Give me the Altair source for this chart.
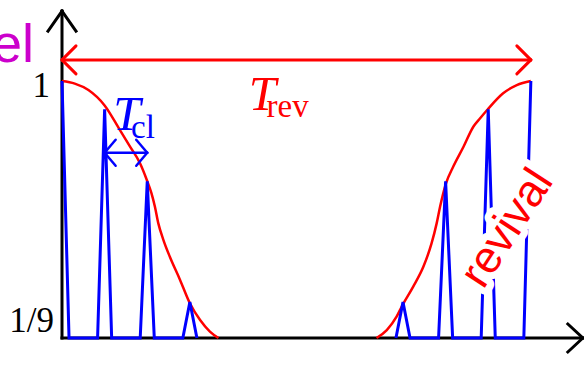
import altair as alt
import pandas as pd

# Time axis in units of the classical period T_cl, vertical axis is probability
T_MAX = 12.2
P_MAX = 1.2685
W, H = 520, 326
PX_X = W / T_MAX   # pixels per time unit
PX_Y = H / P_MAX   # pixels per probability unit

# Spike peaks: collapse group and revival group
peak_t_collapse = [0, 1, 2, 3]
peak_p_collapse = [1.0, 0.89, 0.61, 0.14]
peak_t_revival = [8, 9, 10, 11]
peak_p_revival = [0.14, 0.61, 0.89, 1.0]
half_width = 0.165

# Envelope of the spikes (collapse and revival)
env_t_collapse = [0.0, 0.3, 0.62, 1.0, 1.36, 1.6, 1.83, 1.99, 2.1, 2.18, 2.26, 2.38,
                  2.53, 2.77, 3.0, 3.24, 3.47, 3.67]
env_p_collapse = [1.0, 0.99, 0.965, 0.905, 0.809, 0.744, 0.68, 0.615, 0.563, 0.511, 0.446, 0.381,
                  0.316, 0.226, 0.135, 0.07, 0.025, 0.0]
env_t_revival = [7.38, 7.62, 7.85, 7.98, 8.24, 8.48, 8.67, 8.79, 8.87, 9.01, 9.18, 9.42,
                 9.65, 9.81, 9.99, 10.35, 10.67, 11.0]
env_p_revival = [0.0, 0.031, 0.083, 0.125, 0.2, 0.278, 0.368, 0.446, 0.511, 0.602, 0.667, 0.744,
                 0.822, 0.855, 0.89, 0.952, 0.984, 1.0]

T_CL = 1
T_REV = 11

xs = alt.Scale(domain=[0, T_MAX], nice=False, zero=False)
ys = alt.Scale(domain=[0, P_MAX], nice=False, zero=False)


def X(f="x"):
    return alt.X(f"{f}:Q", scale=xs, axis=None)


def Y(f="y"):
    return alt.Y(f"{f}:Q", scale=ys, axis=None)


# ---- spike polylines
rows = []
for g, (ts, ps) in enumerate([(peak_t_collapse, peak_p_collapse), (peak_t_revival, peak_p_revival)]):
    k = 0
    for i, (t, p) in enumerate(zip(ts, ps)):
        if not (g == 0 and i == 0):
            rows.append(dict(x=t - half_width, y=0.0, g=g, o=k)); k += 1
        rows.append(dict(x=t, y=p, g=g, o=k)); k += 1
        if not (g == 1 and i == len(ts) - 1):
            rows.append(dict(x=t + half_width, y=0.0, g=g, o=k)); k += 1
spikes = pd.DataFrame(rows)

env = pd.DataFrame(
    [dict(x=t, y=p, g=0) for t, p in zip(env_t_collapse, env_p_collapse)]
    + [dict(x=t, y=p, g=1) for t, p in zip(env_t_revival, env_p_revival)]
)


# ---- arrows as line segments
def arrow(t0, v0, t1, v1, along, across):
    """Shaft from (t0,v0) to tip (t1,v1) plus open head; head sizes in pixels."""
    segs = [dict(x=t0, y=v0, x2=t1, y2=v1)]
    dxp = (t1 - t0) * PX_X
    dyp = (v1 - v0) * PX_Y
    n = (dxp ** 2 + dyp ** 2) ** 0.5
    ux, uy = dxp / n, dyp / n
    for s in (1, -1):
        ax = -ux * along + s * (-uy) * across
        ay = -uy * along + s * ux * across
        segs.append(dict(x=t1, y=v1, x2=t1 + ax / PX_X, y2=v1 + ay / PX_Y))
    return segs


def double_arrow(t0, t1, v, along, across):
    a = arrow(t0, v, t1, v, along, across)
    b = arrow(t1, v, t0, v, along, across)
    return a + b[1:]


axes_df = pd.DataFrame(
    arrow(0, 0, 0, 1.272, 20, 14) + arrow(0, 0, 12.22, 0, 15, 14)
)
trev_df = pd.DataFrame(double_arrow(0, T_REV, 1.082, 14, 14))
tcl_df = pd.DataFrame(double_arrow(T_CL, 2 * T_CL, 0.721, 11, 13))


def segs(df, color, width, cap="butt"):
    return alt.Chart(df).mark_rule(color=color, strokeWidth=width, strokeCap=cap).encode(
        x=X(), y=Y(), x2="x2:Q", y2="y2:Q"
    )


def label(x, y, text, **kw):
    df = pd.DataFrame([dict(x=x, y=y, t=text)])
    return alt.Chart(df).mark_text(**kw).encode(x=X(), y=Y(), text="t:N")


serif = "Liberation Serif"
sans = "Liberation Sans"

axes = segs(axes_df, "black", 3, "square")
envelope = alt.Chart(env).mark_line(color="#ff0000", strokeWidth=2.5, interpolate="monotone").encode(
    x=X(), y=Y(), detail="g:N"
)
spike_lines = alt.Chart(spikes).mark_line(color="#0000ff", strokeWidth=3, strokeJoin="miter").encode(
    x=X(), y=Y(), detail="g:N", order="o:Q"
)
trev = segs(trev_df, "#ff0000", 3, "round")
tcl = segs(tcl_df, "#0000ff", 2.5, "round")

texts = [
    label(-0.28, 0.938, "1", font=serif, fontSize=35, align="right", baseline="alphabetic", color="black"),
    label(-0.19, 0.023, "1/9", font=serif, fontSize=35, align="right", baseline="alphabetic", color="black"),
    label(4.38, 0.887, "T", font=serif, fontSize=49, fontStyle="italic", align="left", baseline="alphabetic", color="#ff0000"),
    label(4.8, 0.861, "rev", font=serif, fontSize=33, align="left", baseline="alphabetic", color="#ff0000"),
    label(1.2, 0.809, "T", font=serif, fontSize=49, fontStyle="italic", align="left", baseline="alphabetic", color="#0000ff"),
    label(1.62, 0.777, "cl", font=serif, fontSize=33, align="left", baseline="alphabetic", color="#0000ff"),
    label(-0.657, 1.074, "model", font=sans, fontSize=54, align="right", baseline="alphabetic", color="#cc00cc"),
    label(10.44, 0.428, "revival", font=sans, fontSize=45, align="center", baseline="middle",
          angle=303, color="white", stroke="white", strokeWidth=14, strokeJoin="round"),
    label(10.44, 0.428, "revival", font=sans, fontSize=45, align="center", baseline="middle",
          angle=303, color="#ff0000"),
]

chart = alt.layer(axes, envelope, spike_lines, trev, tcl, *texts).properties(
    width=W,
    height=H,
    padding={"left": 62, "top": 12, "right": 2, "bottom": 41},
    autosize=alt.AutoSizeParams(type="none"),
).configure_view(stroke=None, clip=False)

chart.save("out.html", embed_options={"renderer": "svg", "actions": False})
